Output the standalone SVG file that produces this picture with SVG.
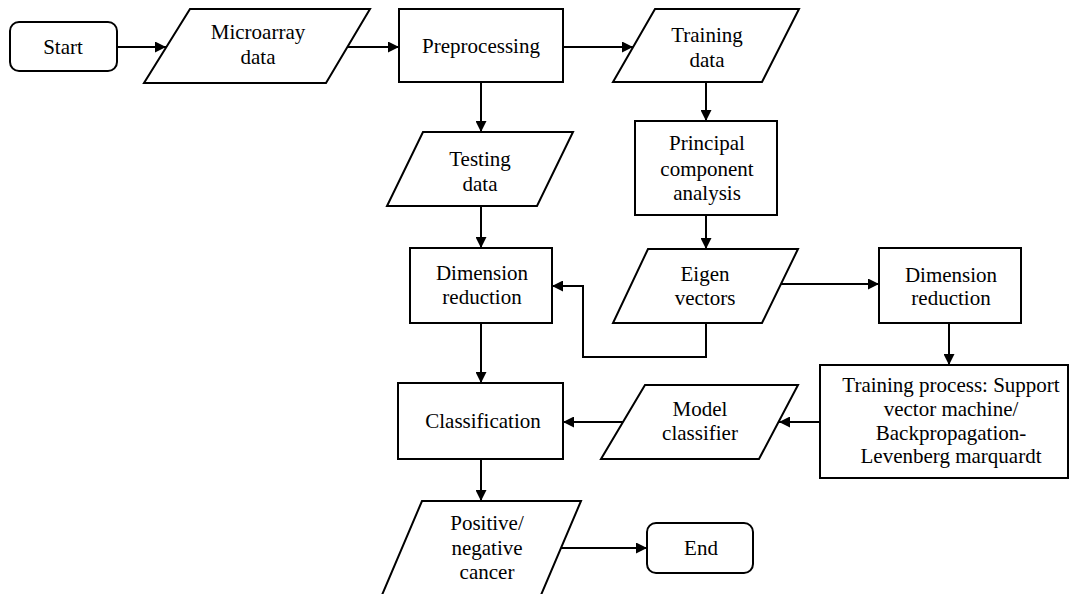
<svg xmlns="http://www.w3.org/2000/svg" width="1070" height="594" viewBox="0 0 1070 594">
<style>
.n{fill:#fff;stroke:#000;stroke-width:2}
.t{font-family:'Liberation Serif',Tinos,'DejaVu Serif',serif;font-size:21px;fill:#000;text-anchor:middle}
.c{fill:none;stroke:#000;stroke-width:2;marker-end:url(#ah)}
</style>
<defs>
<marker id="ah" markerUnits="userSpaceOnUse" markerWidth="11" markerHeight="11" refX="10" refY="5" orient="auto" viewBox="0 0 10 10">
<path d="M0,0 L10,5 L0,10 z" fill="#000"/>
</marker>
</defs>
<rect width="1070" height="594" fill="#fff"/>
<g id="connectors">
<path class="c" d="M117,47 H166"/>
<path class="c" d="M348,47 H399"/>
<path class="c" d="M563,47 H633"/>
<path class="c" d="M481,82 V132"/>
<path class="c" d="M706,82 V121"/>
<path class="c" d="M481,206 V248"/>
<path class="c" d="M706,215 V249"/>
<path class="c" d="M706,323 V357 H583 V286 H552"/>
<path class="c" d="M781,284 H879"/>
<path class="c" d="M949,323 V365"/>
<path class="c" d="M820,422 H779"/>
<path class="c" d="M623,422 H563"/>
<path class="c" d="M481,323 V383"/>
<path class="c" d="M481,459 V501"/>
<path class="c" d="M561,548 H647"/>
</g>
<g id="start">
<rect class="n" x="10" y="22" width="107" height="49" rx="9"/>
<text class="t" font-family="Liberation Serif" x="63" y="54">Start</text>
</g>
<g id="microarray">
<polygon class="n" points="190,9 370,9 326,83 144,83"/>
<text class="t" x="258" y="39">Microarray</text>
<text class="t" x="258" y="64">data</text>
</g>
<g id="preprocessing">
<rect class="n" x="399" y="9" width="164" height="73"/>
<text class="t" x="481" y="53">Preprocessing</text>
</g>
<g id="training-data">
<polygon class="n" points="655,9 799,9 762,82 613,82"/>
<text class="t" x="707" y="42">Training</text>
<text class="t" x="707" y="67">data</text>
</g>
<g id="testing-data">
<polygon class="n" points="423,132 573,132 537,206 387,206"/>
<text class="t" x="480" y="166">Testing</text>
<text class="t" x="480" y="191">data</text>
</g>
<g id="pca">
<rect class="n" x="635" y="121" width="142" height="94"/>
<text class="t" x="707" y="150">Principal</text>
<text class="t" x="707" y="176">component</text>
<text class="t" x="707" y="200">analysis</text>
</g>
<g id="dimred-left">
<rect class="n" x="410" y="248" width="142" height="75"/>
<text class="t" x="482" y="280">Dimension</text>
<text class="t" x="482" y="304">reduction</text>
</g>
<g id="eigen">
<polygon class="n" points="648,249 798,249 762,323 613,323"/>
<text class="t" x="705" y="281">Eigen</text>
<text class="t" x="705" y="305">vectors</text>
</g>
<g id="dimred-right">
<rect class="n" x="879" y="248" width="142" height="75"/>
<text class="t" x="951" y="282">Dimension</text>
<text class="t" x="951" y="305">reduction</text>
</g>
<g id="training-process">
<rect class="n" x="820" y="365" width="248" height="113"/>
<text class="t" x="951" y="392">Training process: Support</text>
<text class="t" x="951" y="416">vector machine/</text>
<text class="t" x="951" y="440">Backpropagation-</text>
<text class="t" x="951" y="463">Levenberg marquardt</text>
</g>
<g id="model-classifier">
<polygon class="n" points="645,385 798,385 759,459 601,459"/>
<text class="t" x="700" y="416">Model</text>
<text class="t" x="700" y="440">classifier</text>
</g>
<g id="classification">
<rect class="n" x="398" y="383" width="165" height="76"/>
<text class="t" x="483" y="428">Classification</text>
</g>
<g id="positive-negative">
<polygon class="n" points="422,501 581,501 541,595 382,595"/>
<text class="t" x="487" y="530">Positive/</text>
<text class="t" x="487" y="555">negative</text>
<text class="t" x="487" y="579">cancer</text>
</g>
<g id="end">
<rect class="n" x="647" y="523" width="106" height="50" rx="9"/>
<text class="t" x="701" y="555">End</text>
</g>
</svg>
